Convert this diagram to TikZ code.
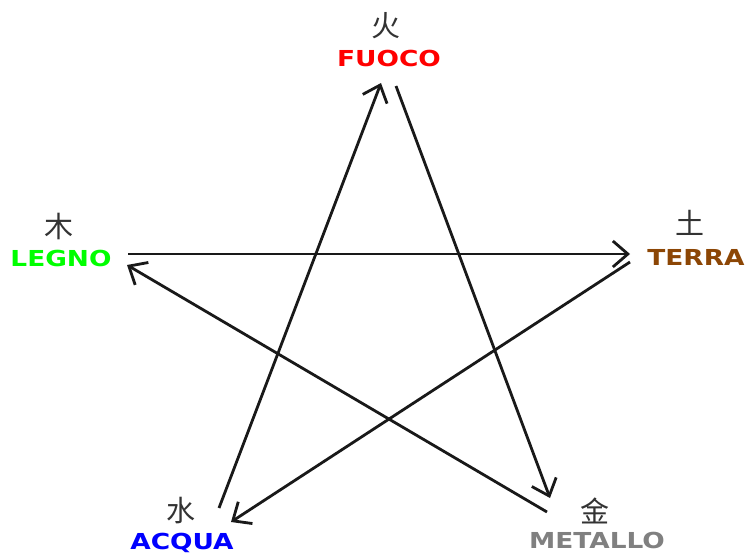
\documentclass[tikz,border=0pt]{standalone}
\usepackage{fontspec}
\usetikzlibrary{arrows.meta}
\newfontfamily\namefont{DejaVu Sans}[FakeStretch=1.2]
\newfontfamily\hanzi{Noto Sans CJK SC}
\definecolor{terrabrown}{RGB}{140,70,5}

\begin{document}
\begin{tikzpicture}[x=1pt, y=-1pt,
    elem/.style={font=\namefont\bfseries\fontsize{22}{22}\selectfont, inner sep=0pt},
    glyph/.style={font=\hanzi\fontsize{29}{29}\selectfont, text=black!80, inner sep=0pt},
    arr/.style={-{Straight Barb[length=15pt, width=26pt]}, line width=2.8pt, black!90}]
    \useasboundingbox (0,0) rectangle (747,555);
    % elements
    \node[elem, text=red] (fuoco) at (389,58) {FUOCO};
    \node[glyph] (fuoco-c) at (386,26) {火};
    \node[elem, text=green] (legno) at (61,258) {LEGNO};
    \node[glyph] (legno-c) at (59,226) {木};
    \node[elem, text=terrabrown] (terra) at (696,257) {TERRA};
    \node[glyph] (terra-c) at (690,223) {土};
    \node[elem, text=blue] (acqua) at (182,543) {ACQUA};
    \node[glyph] (acqua-c) at (181,511) {水};
    \node[elem, text=gray] (metallo) at (597,540) {METALLO};
    \node[glyph] (metallo-c) at (595,511) {金};
    % cycle
    \draw[arr] ([shift={(7,28)}]fuoco.center) -- ([shift={(-47,-42)}]metallo.center);
    \draw[arr] ([shift={(-50,-28)}]metallo.center) -- ([shift={(66,7)}]legno.center);
    \draw[arr] ([shift={(67,-4)}]legno.center) -- ([shift={(-66,-3)}]terra.center);
    \draw[arr] ([shift={(-66,5)}]terra.center) -- ([shift={(49,-21)}]acqua.center);
    \draw[arr] ([shift={(37,-35)}]acqua.center) -- ([shift={(-8,25)}]fuoco.center);
\end{tikzpicture}
\end{document}
